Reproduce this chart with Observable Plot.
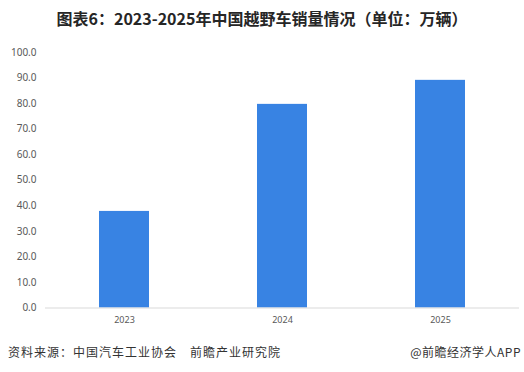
<!DOCTYPE html>
<html><head><meta charset="utf-8">
<script src="https://cdn.jsdelivr.net/npm/d3@7"></script>
<script src="https://cdn.jsdelivr.net/npm/@observablehq/plot@0.6"></script>
<style>
body{margin:0;background:#fff;width:524px;height:372px;overflow:hidden;position:relative;font-family:"Noto Sans CJK SC","Noto Sans",sans-serif;}
#title{position:absolute;left:0;width:524px;top:7px;text-align:center;font-weight:bold;font-size:16px;color:#262626;line-height:22px;z-index:2;}
#chart{position:absolute;left:0;top:0;}
#src{position:absolute;left:8px;top:343px;font-size:12px;letter-spacing:1px;color:#333;line-height:18px;}
#app{position:absolute;right:3px;top:343px;font-size:12px;letter-spacing:0.5px;color:#333;line-height:18px;}
</style></head>
<body>
<div id="title">图表6：2023-2025年中国越野车销量情况（单位：万辆）</div>
<div id="chart"></div>
<div id="src">资料来源：中国汽车工业协会　前瞻产业研究院</div>
<div id="app">@前瞻经济学人APP</div>
<script>
const years = ["2023", "2024", "2025"];
const sales = [37.8, 79.7, 89.1];
const yTicks = [0, 10, 20, 30, 40, 50, 60, 70, 80, 90, 100];

const data = years.map((y, i) => ({year: y, value: sales[i]}));

const chart = Plot.plot({
  width: 524,
  height: 372,
  marginTop: 52,
  marginBottom: 64.5,
  marginLeft: 45,
  marginRight: 5,
  style: {fontFamily: "'Noto Sans', 'DejaVu Sans', sans-serif", background: "transparent"},
  x: {domain: years, paddingInner: 0.684, paddingOuter: 0.342, label: null},
  y: {domain: [0, 100], label: null},
  marks: [
    Plot.barY(data, {x: "year", y: "value", fill: "#3883e3"}),
    Plot.ruleY([0], {stroke: "#d9d9d9", strokeWidth: 1}),
    Plot.axisY({ticks: yTicks, tickFormat: d => d.toFixed(1), tickSize: 0, tickPadding: 9, fontSize: 10, color: "#595959", label: null}),
    Plot.axisX({tickSize: 0, tickPadding: 9, fontSize: 9, color: "#595959", label: null})
  ]
});
document.getElementById("chart").appendChild(chart);
</script>
</body></html>
